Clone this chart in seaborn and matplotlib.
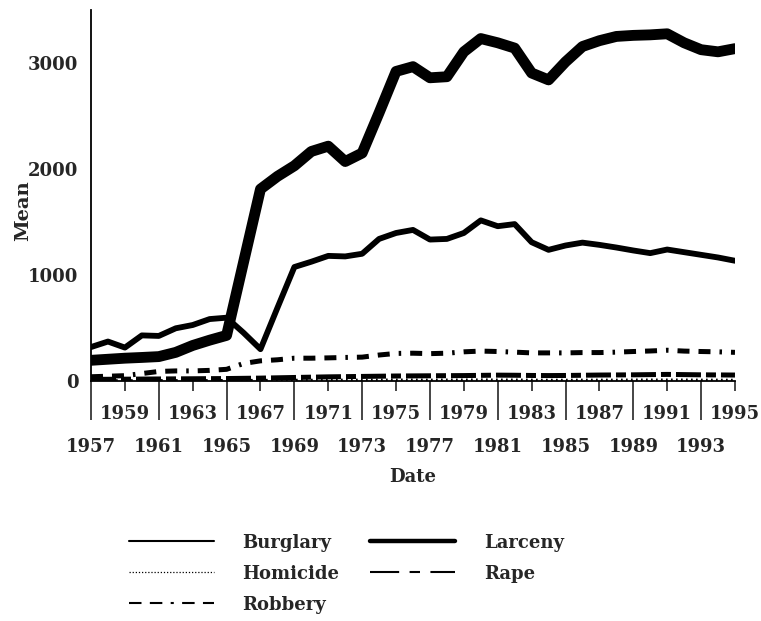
import pandas as pd
import matplotlib.pyplot as plt
import seaborn as sns
from matplotlib.lines import Line2D

# yearly means
years = list(range(1957, 1996))
burglary = [320, 372, 315, 430, 425, 497, 528, 584, 597, 455, 300, 690, 1075,
            1125, 1180, 1175, 1200, 1340, 1396, 1425, 1334, 1340, 1396, 1515,
            1460, 1480, 1309, 1237, 1278, 1305, 1284, 1259, 1231, 1206, 1240,
            1215, 1190, 1165, 1134]
larceny = [195, 205, 215, 222, 230, 270, 335, 385, 430, 1120, 1810, 1930, 2030,
           2165, 2215, 2070, 2150, 2530, 2920, 2965, 2860, 2870, 3105, 3230,
           3190, 3140, 2905, 2840, 3010, 3155, 3210, 3250, 3260, 3265, 3275,
           3190, 3125, 3105, 3135]
robbery = [40, 45, 50, 70, 90, 95, 95, 100, 110, 165, 190, 200, 215, 215, 218,
           222, 225, 245, 260, 262, 258, 262, 275, 282, 278, 272, 265, 265, 265,
           268, 268, 272, 278, 283, 290, 282, 278, 275, 270]
rape = [15, 16, 17, 18, 19, 20, 21, 22, 23, 25, 27, 30, 33, 36, 39, 41, 43, 45,
        47, 48, 49, 50, 51, 53, 55, 54, 52, 51, 52, 54, 56, 57, 58, 60, 62, 60,
        58, 57, 56]
homicide = [4, 4, 4, 4, 5, 5, 5, 5, 6, 6, 7, 7, 8, 8, 9, 9, 9, 10, 10, 10, 9, 10,
            10, 11, 10, 10, 9, 8, 8, 9, 9, 9, 10, 10, 10, 10, 9, 9, 8]

# legend order (column-wise): Burglary, Homicide, Robbery | Larceny, Rape
crimes = ['Burglary', 'Homicide', 'Robbery', 'Larceny', 'Rape']
values = {'Burglary': burglary, 'Homicide': homicide, 'Robbery': robbery,
          'Larceny': larceny, 'Rape': rape}

df = pd.DataFrame({
    'Date': years * len(crimes),
    'Mean': sum((values[c] for c in crimes), []),
    'Crime': [c for c in crimes for _ in years],
})

sns.set_style('white')
plt.rcParams['font.family'] = ['DejaVu Serif']
plt.rcParams['font.weight'] = 'bold'

fig = plt.figure(figsize=(7.61, 6.21), dpi=100)
ax = fig.add_axes([0.1196, 0.3865, 0.8462, 0.5975])

plot_style = {
    'Burglary': dict(lw=4.2, ls='-'),
    'Homicide': dict(lw=2.0, ls=(0, (0.6, 1.2))),
    'Robbery': dict(lw=3.6, ls=(0, (2.4, 1.8, 2.4, 1.8, 0.5, 1.8))),
    'Larceny': dict(lw=7.8, ls='-'),
    'Rape': dict(lw=3.6, ls=(0, (5, 1, 2, 1))),
}
legend_style = {
    'Burglary': dict(lw=1.5, ls='-'),
    'Homicide': dict(lw=0.9, ls=(0, (1, 1.5))),
    'Robbery': dict(lw=1.5, ls=(0, (6, 4, 6, 4, 1.5, 4))),
    'Larceny': dict(lw=3.2, ls='-'),
    'Rape': dict(lw=1.5, ls=(0, (14, 5, 5, 5))),
}

for c in crimes:
    sns.lineplot(data=df[df['Crime'] == c], x='Date', y='Mean', ax=ax,
                 color='black', linewidth=plot_style[c]['lw'],
                 linestyle=plot_style[c]['ls'], legend=False)

ax.set_xlim(1957, 1995)
ax.set_ylim(0, 3500)
ax.set_yticks([0, 1000, 2000, 3000])
ax.tick_params(axis='y', length=0, pad=9, labelsize=13)

major_years = list(range(1957, 1995, 4))
minor_years = list(range(1959, 1996, 4))
ax.set_xticks(major_years, labels=[str(y) for y in major_years])
ax.set_xticks(minor_years, labels=[str(y) for y in minor_years], minor=True)
ax.tick_params(axis='x', which='major', length=28, width=1.2, pad=13,
               labelsize=13, direction='out', bottom=True)
ax.tick_params(axis='x', which='minor', length=7, width=1.2, pad=10,
               labelsize=13, direction='out', bottom=True)

for side in ['top', 'right']:
    ax.spines[side].set_visible(False)
for side in ['left', 'bottom']:
    ax.spines[side].set_color('black')
    ax.spines[side].set_linewidth(1.3)

ax.set_xlabel('Date', fontsize=13, fontweight='bold', labelpad=9)
ax.set_ylabel('Mean', fontsize=14, fontweight='bold')
ax.yaxis.set_label_coords(-0.092, 0.46)

handles = [Line2D([], [], color='black', linewidth=legend_style[c]['lw'],
                  linestyle=legend_style[c]['ls']) for c in crimes]
fig.legend(handles, crimes, ncol=2, loc='center',
           bbox_to_anchor=(0.455, 0.076), frameon=False,
           handlelength=4.7, handletextpad=1.6, columnspacing=1.7,
           labelspacing=0.72, prop=dict(size=13, weight='bold'))

fig.savefig('out.png', dpi=100)
